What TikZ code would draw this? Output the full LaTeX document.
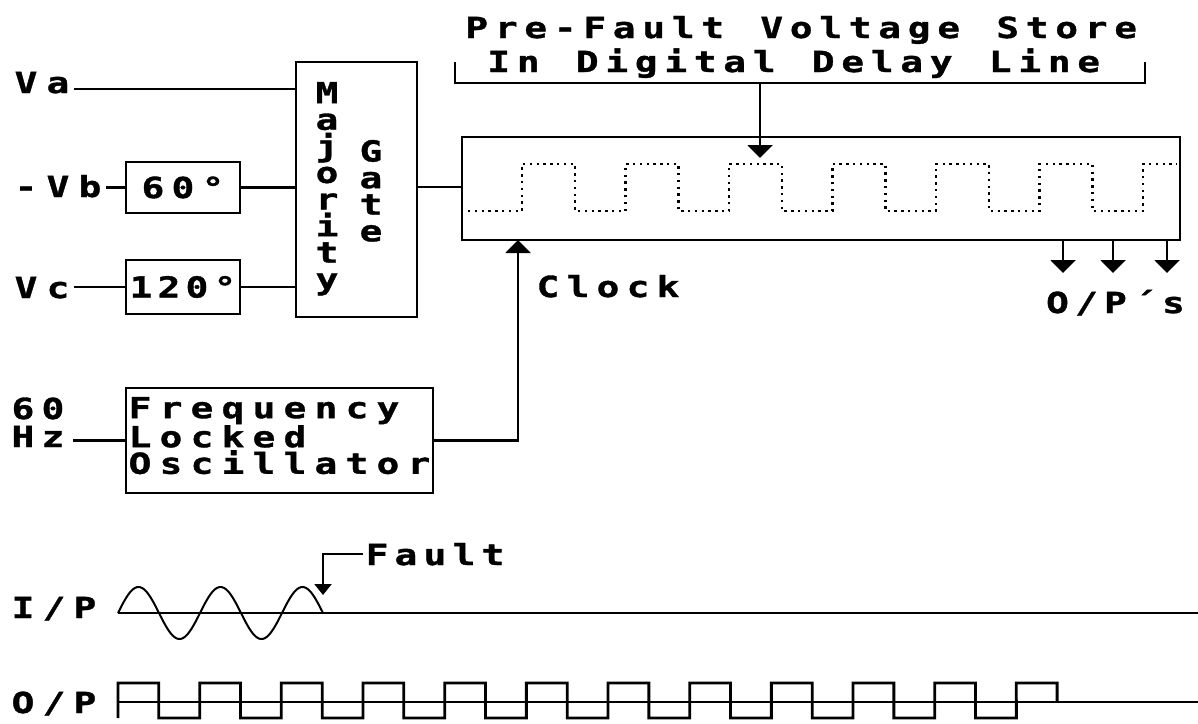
\documentclass[tikz,border=0pt]{standalone}
\usepackage{fontspec}
\usetikzlibrary{arrows.meta}
\newfontfamily\pix[FakeStretch=1.3, FakeBold=1.2]{DejaVu Sans Mono}
\newcommand\pixf{\pix\bfseries\fontsize{29pt}{26.6pt}\selectfont}
\newlength\mtw
\newcommand\mtend{MTEND}
\newcommand\mt[2][30pt]{\setlength\mtw{#1}\mtloop#2\mtend}
\newcommand\mtloop[1]{\ifx#1\mtend\else\makebox[\mtw][c]{#1}\expandafter\mtloop\fi}
\tikzset{
  blk/.style={draw, line width=2.6pt, inner sep=0pt, outer sep=0pt, anchor=north west, font=\pixf},
  lbl/.style={inner sep=0pt, outer sep=0pt, anchor=base west, font=\pixf},
  col/.style={inner sep=0pt, outer sep=0pt, anchor=north, align=center, font=\pixf},
  arr/.style={-{Triangle[width=25pt,length=13pt]}},
  arrs/.style={-{Triangle[width=17pt,length=11pt]}},
  dotw/.style={line width=2.4pt, dash pattern=on 2.4pt off 4.4pt},
}
\begin{document}
\begin{tikzpicture}[x=1pt, y=-1pt, line width=2.8pt]
\useasboundingbox (0,0) rectangle (1198,723);
% title
\node[lbl] (t1) at (462,38) {\mt[29.5pt]{Pre-Fault~Voltage~Store}};
\node[lbl] (t2) at (484,72) {\mt[29.5pt]{In~Digital~Delay~Line}};
\coordinate (brL) at (455,62);
\coordinate (brR) at (1145,62);
\coordinate (brM) at (760,83);
\coordinate (stTip) at (760,158);
\draw (brL) |- (brR |- brM) -- (brR);
% inputs
\node[lbl] (va) at (10,93) {\mt[32pt]{Va}};
\node[lbl] (vb) at (10,197) {\mt[32pt]{-Vb}};
\node[lbl] (vc) at (10,298) {\mt[32pt]{Vc}};
\node[blk, minimum width=114pt, minimum height=51pt] (d60) at (126,162) {\mt{60°}};
\node[blk, minimum width=114pt, minimum height=54pt] (d120) at (126,260) {\mt[28pt]{120°}};
\node[blk, minimum width=121pt, minimum height=255pt] (gate) at (296,62) {};
\node[col] (maj) at (327,82) {M\\a\\j\\o\\r\\i\\t\\y};
\node[col] (gt) at (371,140) {G\\a\\t\\e};
\node[blk, minimum width=718pt, minimum height=103pt] (delay) at (462,137) {};
\coordinate (vaIn) at (296,89);
\coordinate (gOut) at (417,187);
\draw (va.east |- vaIn) -- (vaIn);
\draw (vb.east |- d60.west) -- (d60.west);
\draw (d60.east) -- (d60.east -| gate.west);
\draw (vc.east |- d120.west) -- (d120.west);
\draw (d120.east) -- (d120.east -| gate.west);
\draw (gOut) -- (gOut -| delay.west);
% store arrow
\draw[arr, line width=2.2pt] (brM) -- (stTip);
% dotted stored waveform
\draw[dotw] (468,211) \foreach \k in {0,...,5} { -- ({522+103.5*\k},211) -- ({522+103.5*\k},164) -- ({575+103.5*\k},164) -- ({575+103.5*\k},211) } -- (1143,211) -- (1143,164) -- (1177,164);
% oscillator
\node[lbl] (n60) at (8,419) {\mt{60}};
\node[lbl] (hz) at (8,447) {\mt{Hz}};
\node[blk, minimum width=307pt, minimum height=105pt] (flo) at (126,388) {};
\node[inner sep=0pt, outer sep=0pt, anchor=north west, align=left, font=\pixf] (flot) at (124.5,397) {\mt[31pt]{Frequency}\\\mt[31pt]{Locked}\\\mt[31pt]{Oscillator}};
\draw (flo.west -| n60.east) ++(5,0) -- (flo.west);
\coordinate (clk) at ([xshift=56pt]delay.south west);
\draw[arr, line width=2.2pt] (flo.east) -| (clk);
\node[lbl] (clock) at (533,297) {\mt{Clock}};
% outputs
\foreach \x/\n in {1063/o1,1113/o2,1167/o3} {
  \coordinate (\n) at (delay.south west -| \x,0);
  \draw[arr, line width=2.2pt] (\n) -- ++(0,33);
}
\node[lbl] (ops) at (1043,313) {\mt[29pt]{O/P´s}};
% waveforms
\node[lbl] (ip) at (7.5,618) {\mt[31pt]{I/P}};
\node[lbl] (op) at (7.5,713) {\mt[31pt]{O/P}};
\coordinate (ip0) at (118,613);
\coordinate (ipE) at (1198,613);
\draw (ip0) -- (ipE);
\draw[line width=2pt] plot[domain=0:2.5, samples=121, smooth] ({118+82*\x},{613-26*sin(360*\x)});
\node[lbl] (fault) at (362.5,565) {\mt[29pt]{Fault}};
\coordinate (fTip) at (323,595);
\draw[arrs, line width=2pt] (fault.west) -| (fTip);
\coordinate (op0) at (118,702);
\coordinate (opE) at (1198,702);
\draw (op0) -- (opE);
\draw (118,718) \foreach \k in {0,...,10} { -- ({118+81.67*\k},683) -- ({158.83+81.67*\k},683) -- ({158.83+81.67*\k},718) -- ({199.67+81.67*\k},718) } -- (1016.3,683) -- (1057.1,683) -- (1057.1,702);
\end{tikzpicture}
\end{document}
